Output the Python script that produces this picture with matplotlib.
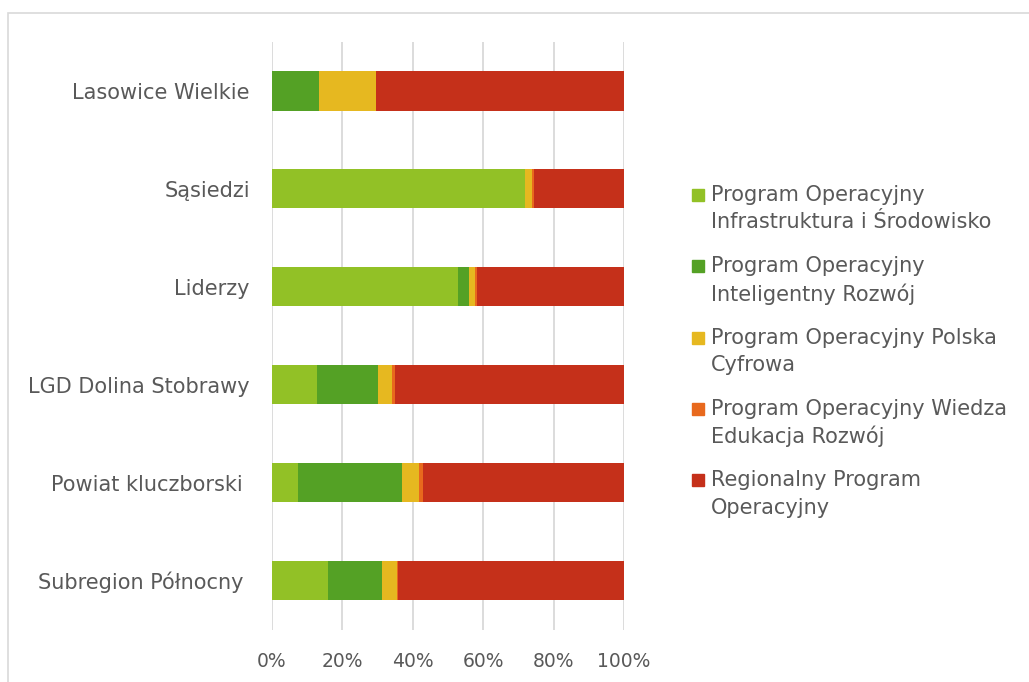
import matplotlib.pyplot as plt
from matplotlib.patches import Rectangle

# Kategorie (od góry do dołu) i udziały poszczególnych programów w %
kategorie = ['Lasowice Wielkie', 'Sąsiedzi', 'Liderzy', 'LGD Dolina Stobrawy',
             'Powiat kluczborski ', 'Subregion Północny ']
poiis = [0.0, 71.9, 52.9, 12.7, 7.5, 15.8]
poir = [13.4, 0.0, 3.2, 17.5, 29.5, 15.5]
popc = [16.2, 2.1, 1.5, 3.9, 4.8, 4.1]
power = [0.0, 0.5, 0.6, 0.8, 1.1, 0.5]
rpo = [70.4, 25.5, 41.8, 65.1, 57.1, 64.1]

serie = [poiis, poir, popc, power, rpo]
etykiety = ['Program Operacyjny\nInfrastruktura i Środowisko',
            'Program Operacyjny\nInteligentny Rozwój',
            'Program Operacyjny Polska\nCyfrowa',
            'Program Operacyjny Wiedza\nEdukacja Rozwój',
            'Regionalny Program\nOperacyjny']
kolory = ['#92C126', '#54A125', '#E6B820', '#E8691D', '#C5301A']
tekst = '#595959'

W, H = 1029, 682
fig = plt.figure(figsize=(W / 100, H / 100), dpi=100)
ax = fig.add_axes([272 / W, 1 - 629.5 / H, 352 / W, 587.5 / H])

# Skumulowane słupki poziome
y = list(range(len(kategorie)))
lewo = [0.0] * len(kategorie)
for wart, kolor in zip(serie, kolory):
    ax.barh(y, wart, left=lewo, height=0.4, color=kolor, edgecolor='none', zorder=3)
    lewo = [a + b for a, b in zip(lewo, wart)]

ax.set_xlim(0, 100)
ax.set_ylim(len(kategorie) - 0.5, -0.5)
ax.set_xticks(range(0, 101, 20))
ax.set_xticklabels([f'{v}%' for v in range(0, 101, 20)])
ax.set_yticks(y)
ax.set_yticklabels(kategorie)
ax.tick_params(axis='both', length=0, colors=tekst)
ax.tick_params(axis='x', pad=16, labelsize=13.5)
ax.tick_params(axis='y', pad=16, labelsize=15)
ax.grid(axis='x', color='#D9D9D9', linewidth=1.3, zorder=0)
for s in ax.spines.values():
    s.set_visible(False)

# Legenda rysowana ręcznie (kwadrat przy pierwszej linii opisu)
y0, krok, linia = 195, 71.3, 27.5
for i, (lab, kolor) in enumerate(zip(etykiety, kolory)):
    yy = y0 + i * krok
    fig.patches.append(Rectangle((692 / W, 1 - (yy + 6) / H), 12 / W, 12 / H,
                                 transform=fig.transFigure, color=kolor))
    for j, wiersz in enumerate(lab.split('\n')):
        fig.text(711 / W, 1 - (yy + j * linia) / H, wiersz, ha='left', va='center',
                 fontsize=15, color=tekst)

# Ramka obszaru wykresu
fig.patches.append(Rectangle((8 / W, -0.1), 1.2, 1 - 13 / H + 0.1,
                             transform=fig.transFigure, fill=False,
                             edgecolor='#D9D9D9', linewidth=1.2))

fig.savefig('out.png', dpi=100)
